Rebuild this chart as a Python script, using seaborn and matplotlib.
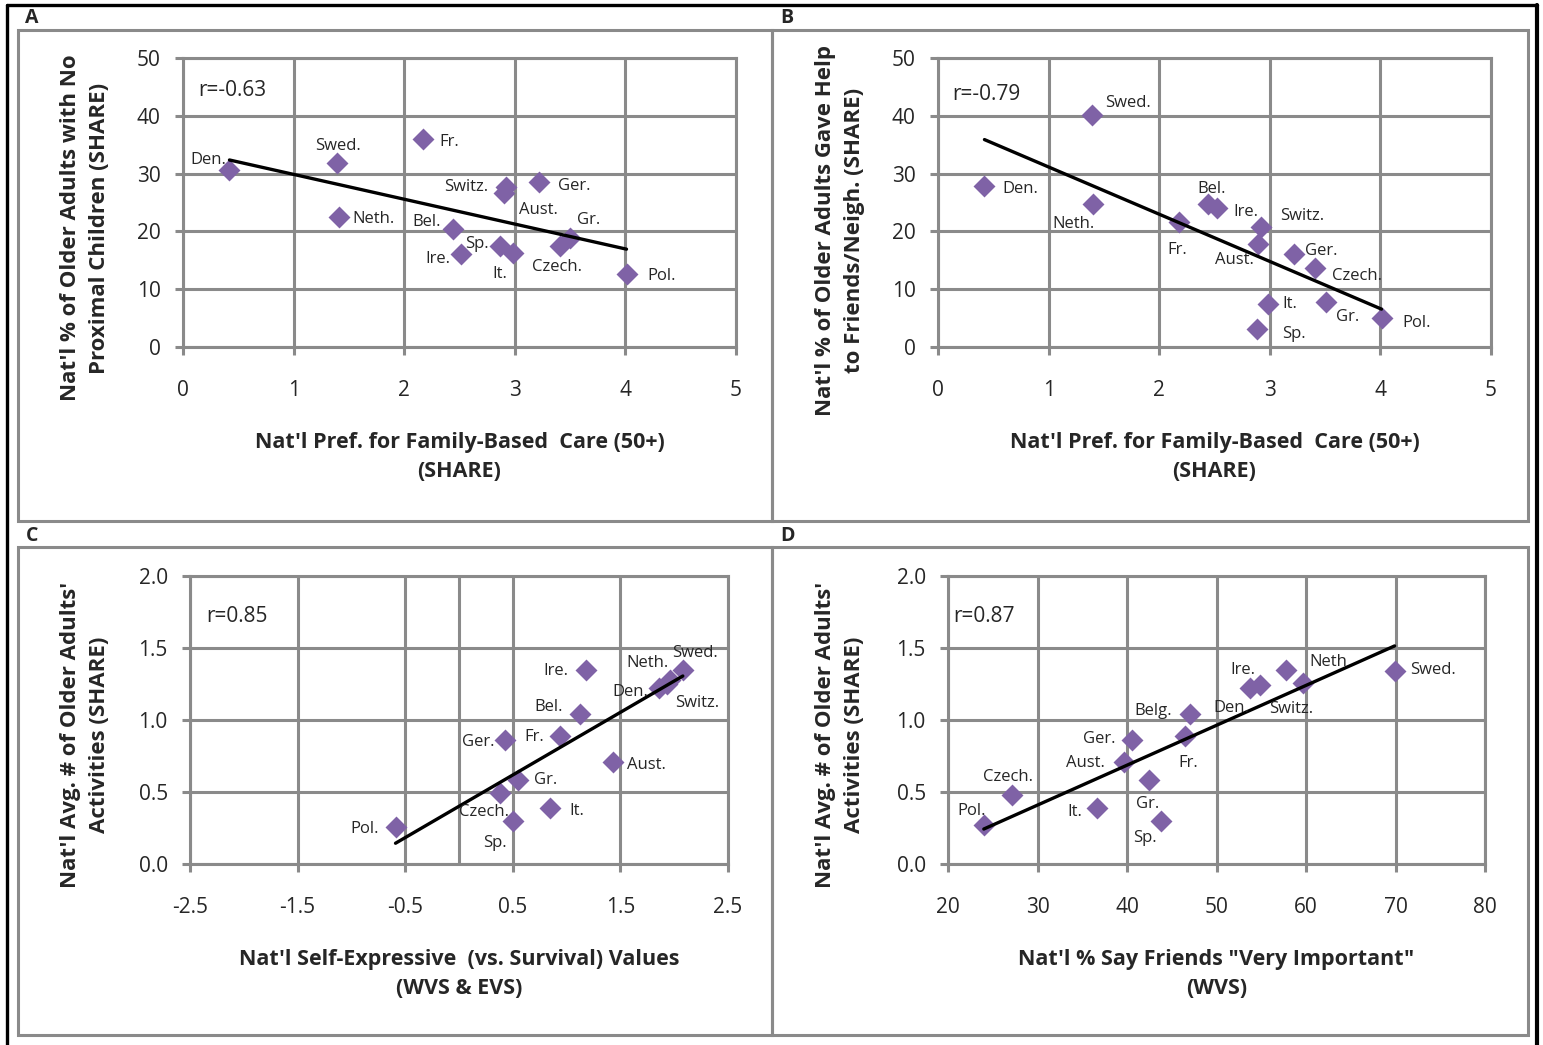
import numpy as np
import matplotlib
matplotlib.use("Agg")
import matplotlib.pyplot as plt
from matplotlib.patches import Rectangle
from matplotlib.lines import Line2D
import seaborn as sns

# ---- data ----
# A: pref. for family care vs % with no proximal children
a_names = ["Den.", "Swed.", "Neth.", "Fr.", "Switz.", "Aust.", "Ger.", "Bel.", "Ire.", "Sp.", "It.", "Czech.", "Gr.", "Pol."]
a_x = [0.42, 1.39, 1.41, 2.17, 2.92, 2.90, 3.22, 2.44, 2.51, 2.87, 2.98, 3.41, 3.50, 4.01]
a_y = [30.6, 31.8, 22.5, 36.0, 27.6, 26.6, 28.5, 20.4, 16.1, 17.5, 16.3, 17.5, 18.8, 12.7]

# B: pref. for family care vs % gave help to friends/neighbours
b_names = ["Den.", "Swed.", "Neth.", "Fr.", "Bel.", "Ire.", "Switz.", "Aust.", "Ger.", "Czech.", "It.", "Sp.", "Gr.", "Pol."]
b_x = [0.42, 1.39, 1.40, 2.18, 2.44, 2.52, 2.92, 2.89, 3.22, 3.41, 2.98, 2.88, 3.51, 4.01]
b_y = [27.9, 40.1, 24.7, 21.7, 24.7, 24.0, 20.8, 17.9, 16.1, 13.6, 7.4, 3.2, 7.8, 5.0]

# C: self-expressive values vs avg # of activities
c_names = ["Pol.", "Czech.", "Sp.", "Gr.", "It.", "Ger.", "Fr.", "Bel.", "Aust.", "Ire.", "Neth.", "Den.", "Switz.", "Swed."]
c_x = [-0.59, 0.38, 0.50, 0.55, 0.85, 0.43, 0.94, 1.12, 1.43, 1.18, 1.96, 1.86, 1.93, 2.08]
c_y = [0.26, 0.49, 0.30, 0.58, 0.39, 0.86, 0.89, 1.04, 0.71, 1.35, 1.28, 1.22, 1.25, 1.35]

# D: % say friends very important vs avg # of activities
d_names = ["Pol.", "Czech.", "It.", "Aust.", "Ger.", "Gr.", "Sp.", "Fr.", "Belg.", "Den.", "Ire.", "Neth", "Switz.", "Swed."]
d_x = [24.0, 27.2, 36.6, 39.7, 40.6, 42.5, 43.8, 46.5, 47.0, 53.7, 57.8, 59.7, 54.9, 69.9]
d_y = [0.27, 0.48, 0.39, 0.71, 0.86, 0.58, 0.30, 0.89, 1.04, 1.22, 1.35, 1.26, 1.24, 1.34]

r_labels = ["r=-0.63", "r=-0.79", "r=0.85", "r=0.87"]
x_titles = ["Nat'l Pref. for Family-Based  Care (50+)\n(SHARE)",
            "Nat'l Pref. for Family-Based  Care (50+)\n(SHARE)",
            "Nat'l Self-Expressive  (vs. Survival) Values\n(WVS & EVS)",
            "Nat'l % Say Friends \"Very Important\"\n(WVS)"]
y_titles = ["Nat'l % of Older Adults with No\nProximal Children (SHARE)",
            "Nat'l % of Older Adults Gave Help\nto Friends/Neigh. (SHARE)",
            "Nat'l Avg. # of Older Adults'\nActivities (SHARE)",
            "Nat'l Avg. # of Older Adults'\nActivities (SHARE)"]

# ---- label offsets (pixels, image y down) ----
a_off = {"Den.": (-21, -10), "Swed.": (1, -17), "Neth.": (35, 2), "Fr.": (26, 3), "Switz.": (-40, 0),
         "Aust.": (35, 17), "Ger.": (35, 4), "Bel.": (-26, -7), "Ire.": (-23, 5), "Sp.": (-23, -2),
         "It.": (-13, 21), "Czech.": (-3, 21), "Gr.": (19, -18), "Pol.": (35, 2)}
b_off = {"Den.": (36, 3), "Swed.": (36, -12), "Neth.": (-19, 20), "Fr.": (-2, 28), "Bel.": (4, -15),
         "Ire.": (29, 4), "Switz.": (41, -11), "Aust.": (-23, 16), "Ger.": (27, -3), "Czech.": (42, 8),
         "It.": (22, 0), "Sp.": (37, 5), "Gr.": (21, 15), "Pol.": (35, 5)}
c_off = {"Pol.": (-31, 2), "Czech.": (-16, 19), "Sp.": (-18, 22), "Gr.": (27, 0), "It.": (26, 3),
         "Ger.": (-27, 2), "Fr.": (-26, 1), "Bel.": (-31, -7), "Aust.": (34, 3), "Ire.": (-30, 1),
         "Neth.": (-22, -17), "Den.": (-29, 4), "Switz.": (31, 19), "Swed.": (12, -17)}
d_off = {"Pol.": (-12, -14), "Czech.": (-4, -18), "It.": (-22, 4), "Aust.": (-39, 1), "Ger.": (-33, -1),
         "Gr.": (-2, 24), "Sp.": (-16, 17), "Fr.": (3, 27), "Belg.": (-36, -3), "Den.": (-18, 20),
         "Ire.": (-43, 0), "Neth": (25, -21), "Switz.": (31, 24), "Swed.": (38, -1)}

W, H = 1543, 1045
GRID = "#8a8a8a"
PURPLE = "#7f62a6"

sns.set_style("white")
plt.rcParams["font.family"] = ["Open Sans", "DejaVu Sans"]

fig = plt.figure(figsize=(W / 100, H / 100), dpi=100)


def px_axes(x0, y0, x1, y1):
    return fig.add_axes([x0 / W, 1 - y1 / H, (x1 - x0) / W, (y1 - y0) / H])


# outer frame and panel boxes
fig.add_artist(Line2D([7 / W, 7 / W], [0, 1 - 5 / H], color="black", lw=2.4))
fig.add_artist(Line2D([7 / W, 1537 / W], [1 - 5 / H, 1 - 5 / H], color="black", lw=2.4))
fig.add_artist(Line2D([1537 / W, 1537 / W], [0, 1 - 5 / H], color="black", lw=3))
for (x0, y0, x1, y1) in [(18, 30, 772, 521), (772, 30, 1528, 521), (18, 547, 772, 1035), (772, 547, 1528, 1035)]:
    fig.add_artist(Rectangle((x0 / W, 1 - y1 / H), (x1 - x0) / W, (y1 - y0) / H,
                             fill=False, edgecolor=GRID, lw=2.2))
for letter, (lx, ly) in zip("ABCD", [(32, 18), (787, 18), (32, 536), (787, 536)]):
    fig.text(lx / W, 1 - ly / H, letter, fontsize=14, fontweight="bold", ha="center", va="center")

panels = [
    (px_axes(183, 58, 736, 347), a_names, a_x, a_y, a_off, (0, 5), np.arange(0, 6, 1), (0, 50), np.arange(0, 60, 10), "{:.0f}", "{:.0f}"),
    (px_axes(938, 58, 1491, 347), b_names, b_x, b_y, b_off, (0, 5), np.arange(0, 6, 1), (0, 50), np.arange(0, 60, 10), "{:.0f}", "{:.0f}"),
    (px_axes(190, 576, 728, 864), c_names, c_x, c_y, c_off, (-2.5, 2.5), np.arange(-2.5, 3, 1), (0, 2), np.arange(0, 2.5, 0.5), "{:.1f}", "{:.1f}"),
    (px_axes(948, 576, 1485, 864), d_names, d_x, d_y, d_off, (20, 80), np.arange(20, 90, 10), (0, 2), np.arange(0, 2.5, 0.5), "{:.0f}", "{:.1f}"),
]

ylab_pos = [(85, 228), (840, 230), (85, 735), (840, 735)]
xlab_y = [457, 457, 974, 974]
r_pos = [(232, 91), (986, 94), (237, 616), (984, 616)]
ax_px = [(183, 58, 736, 347), (938, 58, 1491, 347), (190, 576, 728, 864), (948, 576, 1485, 864)]

for i, (ax, names, xs, ys, off, xl, xt, yl, yt, xf, yf) in enumerate(panels):
    ax.set_axisbelow(True)
    ax.grid(True, color=GRID, lw=2.2)
    for sp in ax.spines.values():
        sp.set_color(GRID)
        sp.set_linewidth(2.2)
    if i == 2:
        ax.axvline(0, color=GRID, lw=2.2, zorder=0)

    sns.regplot(x=xs, y=ys, scatter=False, ci=None, truncate=True, color="black",
                line_kws={"lw": 2.4, "zorder": 4}, ax=ax)
    sns.scatterplot(x=xs, y=ys, marker="D", s=125, color=PURPLE, edgecolor=PURPLE,
                    linewidth=0, ax=ax, zorder=3, legend=False)
    for n, xv, yv in zip(names, xs, ys):
        dx, dy = off[n]
        ax.annotate(n, (xv, yv), xytext=(dx, -dy), textcoords="offset pixels",
                    ha="center", va="center", fontsize=12, zorder=5)

    ax.set_xlim(*xl)
    ax.set_ylim(*yl)
    ax.set_xticks(xt)
    ax.set_xticklabels([xf.format(v) for v in xt])
    ax.set_yticks(yt)
    ax.set_yticklabels([yf.format(v) for v in yt])
    ax.tick_params(axis="both", direction="out", length=6, width=2.2, color=GRID,
                   labelsize=15, left=True, bottom=True)
    ax.tick_params(axis="x", pad=18)
    ax.tick_params(axis="y", pad=10)

    x0, y0, x1, y1 = ax_px[i]
    rx, ry = r_pos[i]
    ax.text((rx - x0) / (x1 - x0), (y1 - ry) / (y1 - y0), r_labels[i], transform=ax.transAxes,
            fontsize=15, ha="center", va="center")

    ax.set_xlabel(x_titles[i], fontsize=15.5, fontweight="bold", linespacing=1.55)
    ax.xaxis.set_label_coords(0.5, (y1 - xlab_y[i]) / (y1 - y0))
    ax.xaxis.label.set_va("center")
    lx, ly = ylab_pos[i]
    ax.set_ylabel(y_titles[i], fontsize=16, fontweight="bold", linespacing=1.5)
    ax.yaxis.set_label_coords((lx - x0) / (x1 - x0), (y1 - ly) / (y1 - y0))
    ax.yaxis.label.set_va("center")

fig.savefig("out.png", dpi=100)
